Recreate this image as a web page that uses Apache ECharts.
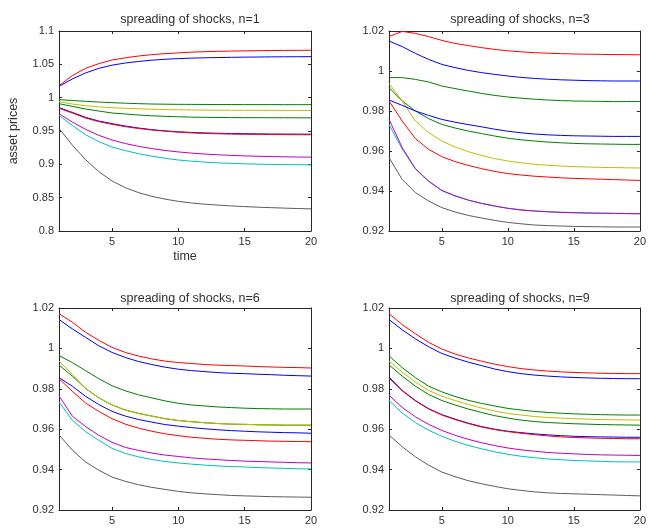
<!DOCTYPE html>
<html>
<head>
<meta charset="utf-8">
<script src="https://cdn.jsdelivr.net/npm/echarts@6/dist/echarts.min.js"></script>
<style>
html,body{margin:0;padding:0;background:#fff;}
#chart{width:649px;height:531px;}
</style>
</head>
<body>
<div id="chart"></div>
<script>
// time axis
const time = [1,2,3,4,5,6,7,8,9,10,11,12,13,14,15,16,17,18,19,20];
const xTickValues = [5,10,15,20];
const titles = ['spreading of shocks, n=1','spreading of shocks, n=3','spreading of shocks, n=6','spreading of shocks, n=9'];
const yTicks1 = {min:0.8, max:1.1, step:0.05};
const yTicks2 = {min:0.92, max:1.02, step:0.02};

// ---- n=1 ----
const n1_blue1  = [1.017,1.028,1.037,1.044,1.0488,1.052,1.0543,1.0562,1.0576,1.0586,1.0593,1.0598,1.0602,1.0605,1.0608,1.061,1.0612,1.0613,1.0614,1.0615];
const n1_green1 = [0.991,0.987,0.983,0.98,0.977,0.9755,0.974,0.9728,0.972,0.9713,0.9708,0.9705,0.9703,0.9701,0.97,0.97,0.9699,0.9699,0.9698,0.9698];
const n1_red1   = [1.018,1.033,1.044,1.051,1.0565,1.0598,1.0625,1.0645,1.066,1.0672,1.0683,1.069,1.0695,1.0699,1.0702,1.0705,1.0707,1.0709,1.071,1.0711];
const n1_cyan   = [0.9733,0.9584,0.9445,0.934,0.926,0.9205,0.916,0.9122,0.909,0.9065,0.9047,0.9033,0.9022,0.9014,0.9008,0.9003,0.8999,0.8996,0.8994,0.8992];
const n1_mag    = [0.976,0.9634,0.9525,0.9435,0.9365,0.9312,0.927,0.9236,0.9208,0.9186,0.9168,0.9154,0.9143,0.9134,0.9127,0.9121,0.9117,0.9113,0.911,0.9108];
const n1_yellow = [0.994,0.9905,0.988,0.9862,0.985,0.984,0.9833,0.9827,0.9822,0.9818,0.9815,0.9813,0.9812,0.9811,0.981,0.981,0.9809,0.9809,0.9808,0.9808];
const n1_gray   = [0.954,0.929,0.907,0.889,0.875,0.865,0.8575,0.852,0.8478,0.8445,0.842,0.8402,0.8388,0.8376,0.8366,0.8357,0.835,0.8343,0.8337,0.8332];
const n1_blue2  = [0.985,0.978,0.9705,0.965,0.961,0.9575,0.9545,0.952,0.9502,0.9488,0.9478,0.9471,0.9466,0.9462,0.9459,0.9457,0.9455,0.9454,0.9453,0.9452];
const n1_green2 = [0.997,0.9958,0.9945,0.9935,0.9925,0.9917,0.991,0.9905,0.9902,0.99,0.9899,0.9898,0.9897,0.9897,0.9896,0.9896,0.9896,0.9895,0.9895,0.9895];
const n1_red2   = [0.984,0.977,0.9695,0.964,0.96,0.9565,0.9537,0.9515,0.9497,0.9482,0.9471,0.9463,0.9458,0.9454,0.9451,0.9449,0.9447,0.9446,0.9445,0.9445];

// ---- n=3 ----
const n3_blue1  = [1.015,1.0122,1.0088,1.0058,1.0033,1.0017,1.0003,0.9992,0.9983,0.9975,0.9968,0.9963,0.9959,0.9956,0.9954,0.9952,0.9951,0.995,0.995,0.995];
const n3_green1 = [0.9917,0.985,0.98,0.9762,0.9733,0.9715,0.97,0.9687,0.9675,0.9664,0.9656,0.965,0.9645,0.9641,0.9638,0.9636,0.9635,0.9634,0.9633,0.9633];
const n3_red1   = [1.0172,1.0198,1.0188,1.0172,1.0153,1.0138,1.0127,1.0117,1.0108,1.0101,1.0096,1.0092,1.0089,1.0087,1.0085,1.0084,1.0083,1.0082,1.0082,1.0081];
const n3_cyan   = [0.9733,0.961,0.951,0.9448,0.9402,0.9375,0.9354,0.9338,0.9325,0.9314,0.9306,0.93,0.9297,0.9294,0.9292,0.929,0.9289,0.9288,0.9287,0.9287];
const n3_mag    = [0.9758,0.9617,0.9512,0.945,0.9403,0.9376,0.9355,0.9338,0.9325,0.9313,0.9305,0.93,0.9296,0.9293,0.9291,0.929,0.9289,0.9288,0.9287,0.9286];
const n3_yellow = [0.9938,0.985,0.975,0.9692,0.965,0.962,0.9597,0.9578,0.9562,0.955,0.9541,0.9534,0.9529,0.9525,0.9522,0.952,0.9518,0.9517,0.9516,0.9515];
const n3_gray   = [0.9567,0.9458,0.9392,0.935,0.9317,0.9295,0.9278,0.9265,0.9253,0.9243,0.9236,0.923,0.9227,0.9225,0.9223,0.9222,0.9221,0.922,0.922,0.922];
const n3_blue2  = [0.9855,0.9828,0.98,0.9778,0.9758,0.9744,0.9732,0.9721,0.9709,0.9699,0.9691,0.9685,0.9681,0.9678,0.9676,0.9675,0.9674,0.9673,0.9673,0.9673];
const n3_green2 = [0.9967,0.9967,0.9958,0.9945,0.9925,0.9912,0.99,0.9888,0.9878,0.987,0.9864,0.9859,0.9855,0.9852,0.985,0.9849,0.9848,0.9847,0.9847,0.9847];
const n3_red2   = [0.985,0.975,0.9662,0.9608,0.9572,0.9547,0.9528,0.9512,0.9498,0.9487,0.948,0.9474,0.947,0.9466,0.9463,0.9461,0.9459,0.9457,0.9455,0.9453];

// ---- n=6 ----
const n6_blue1  = [1.0143,1.0097,1.0055,1.0013,0.998,0.9955,0.9935,0.992,0.9907,0.9897,0.989,0.9885,0.988,0.9877,0.9875,0.9872,0.987,0.9867,0.9865,0.9863];
const n6_green1 = [0.9918,0.9863,0.9802,0.9755,0.972,0.9695,0.9678,0.9665,0.9652,0.9643,0.9637,0.9632,0.9628,0.9625,0.9624,0.9622,0.9621,0.962,0.962,0.962];
const n6_red1   = [1.0172,1.013,1.008,1.004,1.0005,0.998,0.9962,0.9948,0.9937,0.993,0.9925,0.992,0.9917,0.9915,0.9913,0.991,0.9908,0.9906,0.9905,0.9903];
const n6_cyan   = [0.9735,0.9645,0.9588,0.9545,0.9505,0.948,0.9463,0.945,0.944,0.9433,0.9427,0.9422,0.9418,0.9415,0.9413,0.941,0.9408,0.9406,0.9404,0.9403];
const n6_mag    = [0.9765,0.9665,0.9613,0.957,0.9535,0.951,0.9495,0.9482,0.9472,0.9465,0.9458,0.9453,0.9449,0.9445,0.9442,0.944,0.9438,0.9436,0.9434,0.9433];
const n6_yellow = [0.9938,0.9872,0.9802,0.9755,0.972,0.9695,0.9678,0.9665,0.9652,0.9643,0.9637,0.9632,0.9628,0.9625,0.9624,0.9622,0.9621,0.962,0.962,0.962];
const n6_gray   = [0.9572,0.9497,0.9438,0.9397,0.9363,0.9342,0.9325,0.9312,0.9302,0.9292,0.9285,0.928,0.9276,0.9272,0.927,0.9268,0.9266,0.9265,0.9264,0.9263];
const n6_blue2  = [0.9855,0.9813,0.9763,0.9722,0.9688,0.9665,0.9648,0.9635,0.9623,0.9615,0.9608,0.9602,0.9597,0.9593,0.959,0.9587,0.9585,0.9583,0.9582,0.958];
const n6_green2 = [0.9965,0.993,0.989,0.985,0.9815,0.979,0.977,0.9755,0.974,0.9728,0.972,0.9715,0.971,0.9707,0.9704,0.9702,0.9701,0.97,0.97,0.97];
const n6_red2   = [0.985,0.9788,0.973,0.9688,0.9652,0.9625,0.9605,0.959,0.9577,0.9568,0.956,0.9555,0.955,0.9547,0.9545,0.9543,0.9541,0.954,0.9539,0.9538];

// ---- n=9 ----
const n9_blue1  = [1.0143,1.0092,1.0047,1.0008,0.9975,0.9952,0.9932,0.9915,0.9898,0.9885,0.9875,0.9868,0.9863,0.9859,0.9856,0.9854,0.9852,0.9851,0.985,0.985];
const n9_green1 = [0.9918,0.9863,0.9813,0.9772,0.9742,0.972,0.97,0.9683,0.9667,0.9655,0.9645,0.9638,0.9633,0.963,0.9627,0.9625,0.9623,0.9622,0.9621,0.962];
const n9_red1   = [1.0172,1.0118,1.0072,1.003,0.9997,0.9972,0.9953,0.9937,0.9922,0.991,0.99,0.9893,0.9888,0.9884,0.9881,0.9879,0.9877,0.9876,0.9875,0.9875];
const n9_cyan   = [0.9742,0.968,0.9633,0.9595,0.9565,0.954,0.952,0.9503,0.9488,0.9476,0.9466,0.9459,0.9453,0.9449,0.9445,0.9443,0.9441,0.9439,0.9438,0.9438];
const n9_mag    = [0.9768,0.9708,0.9661,0.9624,0.9594,0.957,0.955,0.9533,0.9519,0.9507,0.9498,0.9491,0.9485,0.9481,0.9478,0.9475,0.9473,0.9472,0.9471,0.947];
const n9_yellow = [0.9938,0.9883,0.9833,0.9792,0.9763,0.9742,0.9722,0.9705,0.969,0.9678,0.967,0.9663,0.9658,0.9655,0.9652,0.965,0.9648,0.9647,0.9646,0.9645];
const n9_gray   = [0.9572,0.9513,0.9463,0.9422,0.9388,0.9365,0.9345,0.933,0.9317,0.9305,0.9297,0.929,0.9285,0.9282,0.928,0.9278,0.9276,0.9274,0.9272,0.927];
const n9_blue2  = [0.9858,0.9792,0.9742,0.9702,0.9672,0.965,0.963,0.9613,0.96,0.959,0.9583,0.9577,0.9572,0.9568,0.9565,0.9563,0.9562,0.9561,0.956,0.956];
const n9_green2 = [0.9963,0.9905,0.9855,0.9813,0.9785,0.9762,0.9743,0.9728,0.9715,0.9703,0.9695,0.9688,0.9683,0.9679,0.9676,0.9674,0.9672,0.9671,0.967,0.967];
const n9_red2   = [0.9853,0.979,0.974,0.97,0.967,0.9648,0.9628,0.9611,0.9598,0.9588,0.958,0.9573,0.9567,0.9562,0.9559,0.9557,0.9555,0.9554,0.9553,0.9553];

// MATLAB default color order: b g r c m y k, then repeats
const lineColors = ['#0000ff','#008000','#ff0000','#00bfbf','#bf00bf','#bfbf00','#5c5c5c','#0000ff','#008000','#ff0000'];

const panelLines = [
  [n1_blue1,n1_green1,n1_red1,n1_cyan,n1_mag,n1_yellow,n1_gray,n1_blue2,n1_green2,n1_red2],
  [n3_blue1,n3_green1,n3_red1,n3_cyan,n3_mag,n3_yellow,n3_gray,n3_blue2,n3_green2,n3_red2],
  [n6_blue1,n6_green1,n6_red1,n6_cyan,n6_mag,n6_yellow,n6_gray,n6_blue2,n6_green2,n6_red2],
  [n9_blue1,n9_green1,n9_red1,n9_cyan,n9_mag,n9_yellow,n9_gray,n9_blue2,n9_green2,n9_red2]
];
const panelY = [yTicks1, yTicks2, yTicks2, yTicks2];

// layout
const grids = [
  {left:59, top:31, width:252, height:200},
  {left:389, top:31, width:252, height:200},
  {left:59, top:308, width:252, height:202},
  {left:389, top:308, width:252, height:202}
];
const titleTops = [8, 8, 287, 287];

const FONT = "'Liberation Sans', Arial, Helvetica, sans-serif";
const AX = '#262626';
const TXT = '#303030';

const option = {
  animation:false,
  backgroundColor:'#ffffff',
  title: titles.map((t,i)=>({
    text:t, left: grids[i].left + grids[i].width/2, top: titleTops[i], textAlign:'center',
    textStyle:{fontSize:12.5, fontWeight:'normal', color:TXT, fontFamily:FONT}
  })),
  grid: grids.map(g=>Object.assign({containLabel:false}, g)),
  xAxis: [],
  yAxis: [],
  series: []
};

grids.forEach((g,i)=>{
  const lineStyle = {color:AX, width:1};
  option.xAxis.push({
    gridIndex:i, type:'value', min:1, max:20, position:'bottom',
    name: i===0 ? 'time' : '', nameLocation:'middle', nameGap:19,
    nameTextStyle:{fontSize:12.5, color:TXT, fontFamily:FONT},
    axisLine:{show:true, onZero:false, lineStyle},
    axisTick:{show:true, inside:true, length:3, customValues:xTickValues, lineStyle},
    axisLabel:{show:true, customValues:xTickValues, fontSize:11, color:TXT, margin:5, fontFamily:FONT},
    splitLine:{show:false}
  });
  option.xAxis.push({
    gridIndex:i, type:'value', min:1, max:20, position:'top',
    axisLine:{show:true, onZero:false, lineStyle},
    axisTick:{show:true, inside:true, length:3, customValues:xTickValues, lineStyle},
    axisLabel:{show:false},
    splitLine:{show:false}
  });
  const yc = panelY[i];
  option.yAxis.push({
    gridIndex:i, type:'value', min:yc.min, max:yc.max, interval:yc.step, position:'left',
    name: i===0 ? 'asset prices' : '', nameLocation:'middle', nameGap:39, nameRotate:90,
    nameTextStyle:{fontSize:12.5, color:TXT, fontFamily:FONT},
    axisLine:{show:true, onZero:false, lineStyle},
    axisTick:{show:true, inside:true, length:3, lineStyle},
    axisLabel:{show:true, fontSize:11, color:TXT, margin:5, fontFamily:FONT},
    splitLine:{show:false}
  });
  option.yAxis.push({
    gridIndex:i, type:'value', min:yc.min, max:yc.max, interval:yc.step, position:'right',
    axisLine:{show:true, onZero:false, lineStyle},
    axisTick:{show:true, inside:true, length:3, lineStyle},
    axisLabel:{show:false},
    splitLine:{show:false}
  });
  panelLines[i].forEach((vals,k)=>{
    option.series.push({
      type:'line', xAxisIndex:2*i, yAxisIndex:2*i,
      data: time.map((t,j)=>[t, vals[j]]),
      symbol:'none', showSymbol:false, silent:true, clip:true,
      lineStyle:{width:1, color:lineColors[k]},
      itemStyle:{color:lineColors[k]}
    });
  });
});

const chart = echarts.init(document.getElementById('chart'), null, {renderer:'canvas'});
chart.setOption(option);
</script>
</body>
</html>
